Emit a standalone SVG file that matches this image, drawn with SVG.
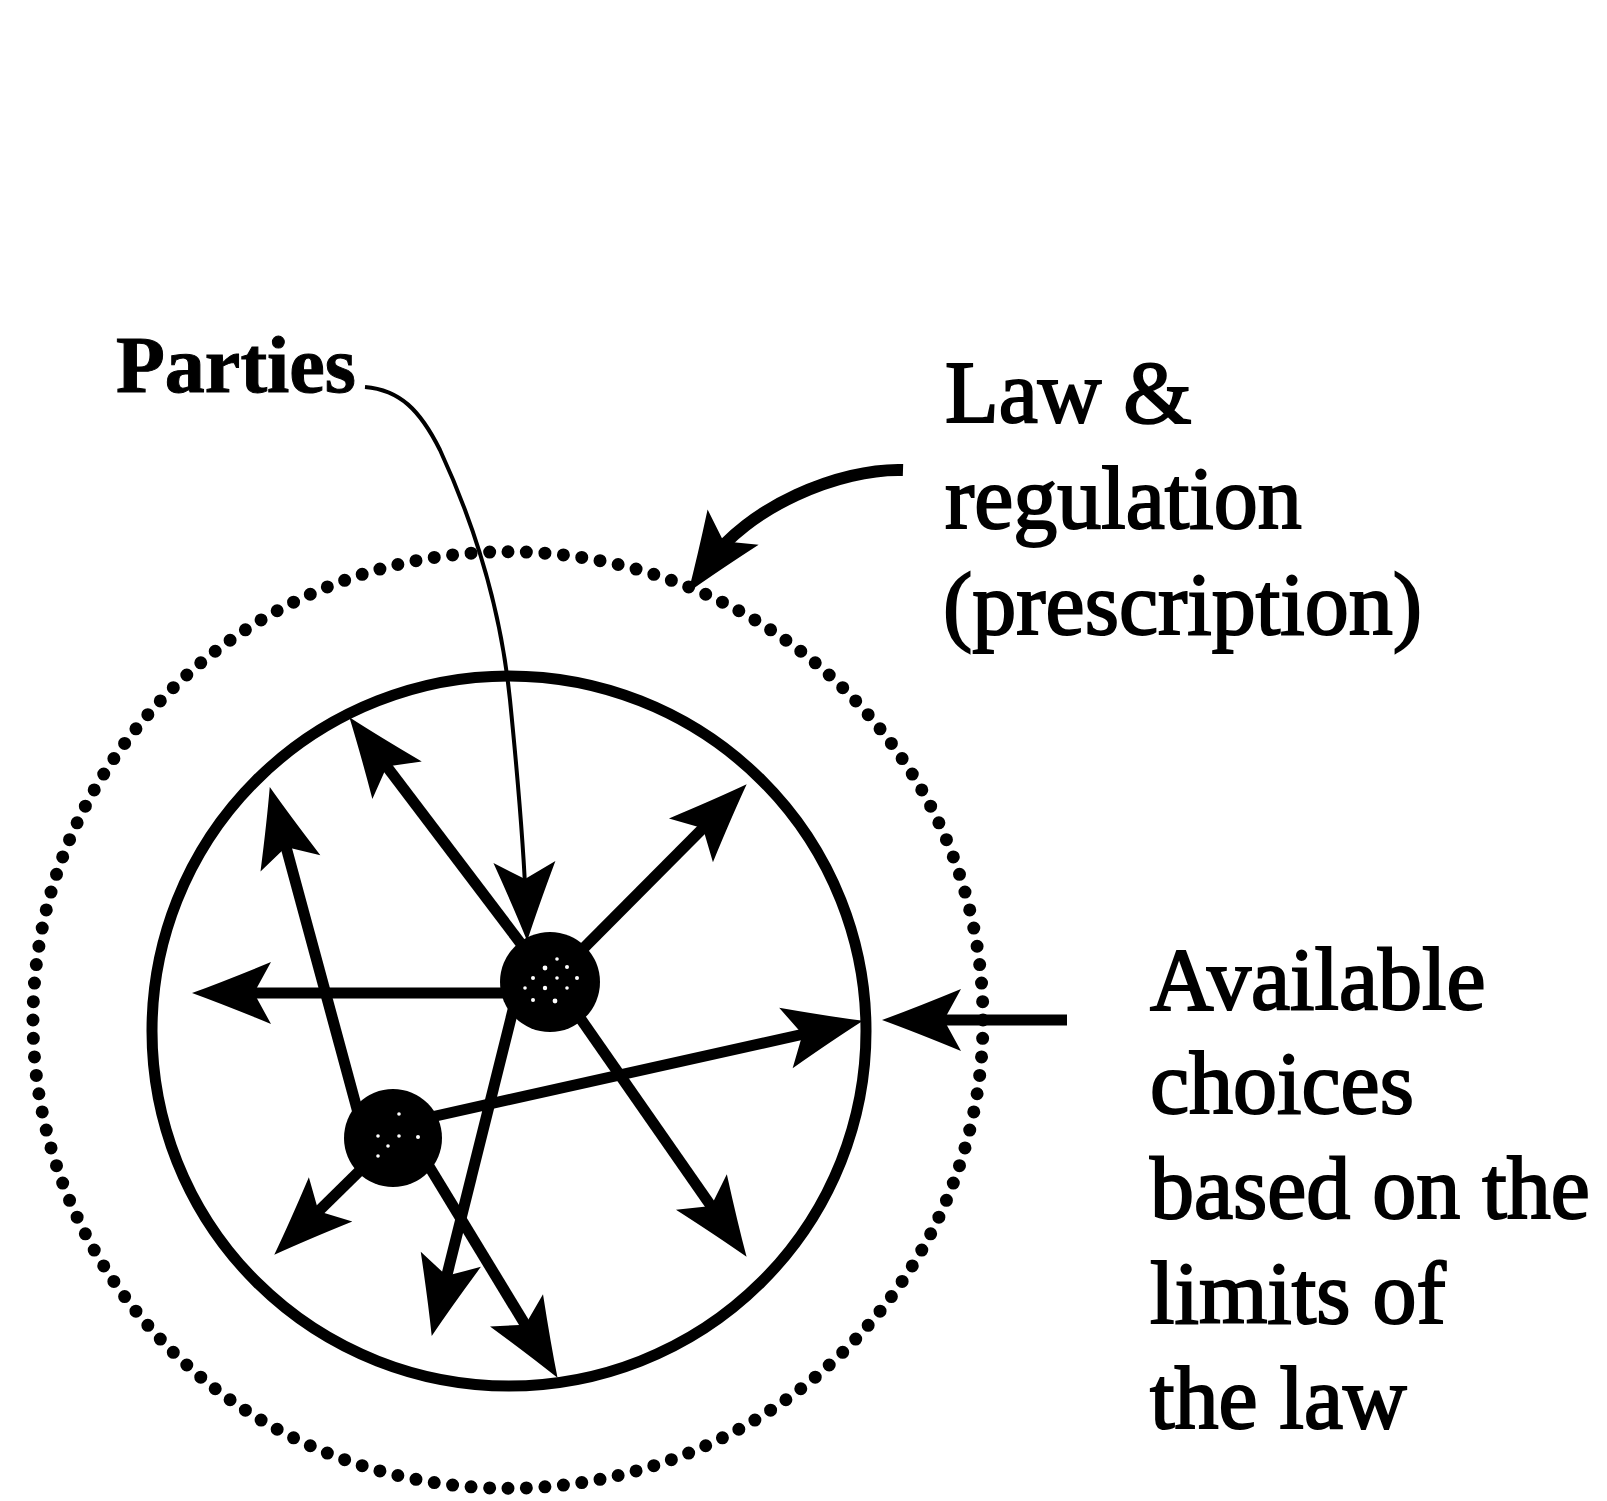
<svg xmlns="http://www.w3.org/2000/svg" width="1607" height="1501" viewBox="0 0 1607 1501">
  <defs>
    <!-- swallow-tailed arrowhead, tip 33px beyond the end of the shaft -->
    <marker id="head" markerUnits="userSpaceOnUse" markerWidth="90" markerHeight="70" viewBox="-50 -35 90 70" refX="0" refY="0" orient="auto" overflow="visible">
      <path d="M33,0 Q0,-12 -46,-31 L-29,0 L-46,31 Q0,12 33,0 Z" fill="#000"/>
    </marker>
  </defs>
  <style>
    .lbl { font-family: "Liberation Serif", "Times New Roman", serif; font-size: 88px; fill: #000; stroke: #000; stroke-width: 2px; }
    .bold { font-weight: bold; font-size: 80px; stroke-width: 1px; }
    .arrow { fill: none; stroke: #000; stroke-width: 11; marker-end: url(#head); }
    .thin { fill: none; stroke: #000; stroke-width: 4; marker-end: url(#head); }
    .speck { fill: #fff; }
  </style>
  <rect width="1607" height="1501" fill="#fff"/>

  <!-- outer boundary: law & regulation (dotted) -->
  <g id="law-boundary">
    <path d="M33,1020 A475,468 0 1,0 983,1020 A475,468 0 1,0 33,1020 Z" pathLength="160" fill="none" stroke="#000" stroke-width="13" stroke-linecap="round" stroke-dasharray="0 1"/>
  </g>

  <!-- inner boundary: available choices -->
  <g id="choice-boundary">
    <ellipse cx="509" cy="1031" rx="357" ry="355" fill="none" stroke="#000" stroke-width="11"/>
  </g>

  <g id="connectors">
    <!-- choices radiating from the upper party -->
    <path class="arrow" d="M540,993 L225,993"/>
    <path class="arrow" d="M550,982 L369.3,743.5"/>
    <path class="arrow" d="M550,982 L723.4,807.7"/>
    <path class="arrow" d="M555,982 L727.7,1229.8"/>
    <path class="arrow" d="M518,990 L439.7,1304"/>
    <!-- choices radiating from the lower party -->
    <path class="arrow" d="M360,1120 L278.4,818.9"/>
    <path class="arrow" d="M400,1124 L830.8,1028"/>
    <path class="arrow" d="M393,1138 L297.8,1231.6"/>
    <path class="arrow" d="M410,1135 L540.4,1349.6"/>
    <!-- label pointers -->
    <path class="arrow" d="M1067,1020 L915,1020"/>
    <path class="arrow" style="stroke-width:12" d="M903,470 C840,468 747,507 707,565"/>
    <path class="thin" d="M365,387 C400,390 420,410 440,450 C470,515 500,600 510,700 C518,780 524,850 526,908"/>
  </g>

  <!-- parties -->
  <g id="party-upper">
    <circle cx="550" cy="982" r="50" fill="#000"/>
    <circle class="speck" cx="545" cy="968" r="2.4"/>
    <circle class="speck" cx="557" cy="959" r="1.8"/>
    <circle class="speck" cx="567" cy="967" r="2"/>
    <circle class="speck" cx="533" cy="978" r="2"/>
    <circle class="speck" cx="557" cy="978" r="1.8"/>
    <circle class="speck" cx="577" cy="978" r="2"/>
    <circle class="speck" cx="525" cy="988" r="1.8"/>
    <circle class="speck" cx="545" cy="988" r="2.2"/>
    <circle class="speck" cx="567" cy="988" r="1.8"/>
    <circle class="speck" cx="533" cy="1000" r="2"/>
    <circle class="speck" cx="555" cy="1001" r="2.4"/>
  </g>
  <g id="party-lower">
    <circle cx="393" cy="1138" r="49" fill="#000"/>
    <circle class="speck" cx="399" cy="1114" r="1.8"/>
    <circle class="speck" cx="378" cy="1136" r="1.8"/>
    <circle class="speck" cx="399" cy="1136" r="1.8"/>
    <circle class="speck" cx="418" cy="1137" r="2"/>
    <circle class="speck" cx="388" cy="1146" r="1.8"/>
    <circle class="speck" cx="378" cy="1156" r="1.8"/>
  </g>

  <!-- labels -->
  <g id="label-parties">
    <text class="lbl bold" x="116" y="392">Parties</text>
  </g>
  <g id="label-law">
    <text class="lbl" x="945" y="422">Law &amp;</text>
    <text class="lbl" x="945" y="528">regulation</text>
    <text class="lbl" x="943" y="634">(prescription)</text>
  </g>
  <g id="label-choices">
    <text class="lbl" x="1150" y="1009">Available</text>
    <text class="lbl" x="1150" y="1113">choices</text>
    <text class="lbl" x="1150" y="1218">based on the</text>
    <text class="lbl" x="1150" y="1323">limits of</text>
    <text class="lbl" x="1150" y="1428">the law</text>
  </g>
</svg>
